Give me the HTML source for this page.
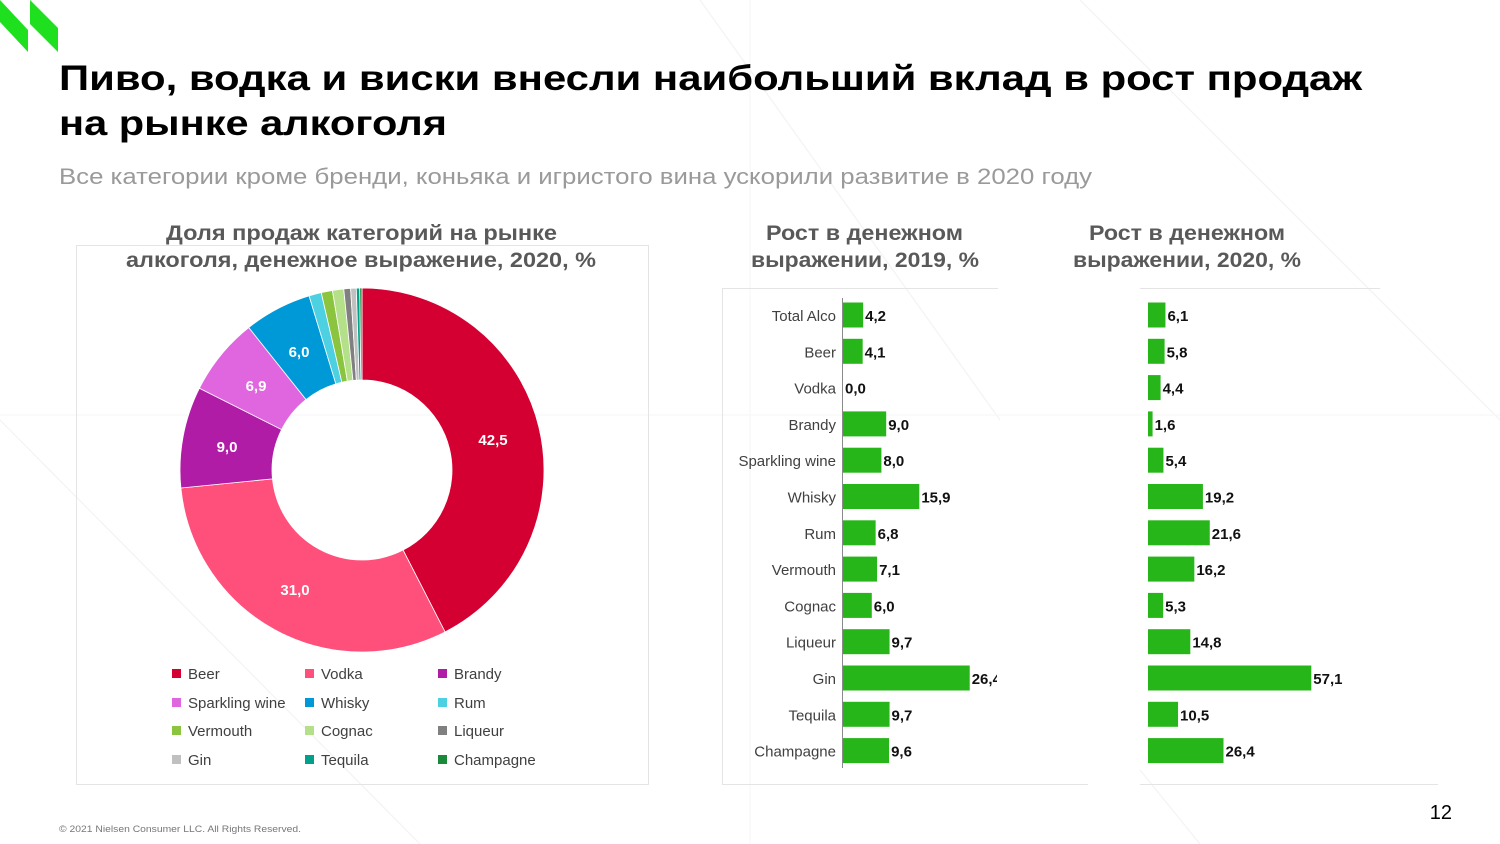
<!DOCTYPE html>
<html><head><meta charset="utf-8"><style>
body{margin:0;width:1500px;height:844px;background:#fff;overflow:hidden}
svg{display:block}
text{font-family:"Liberation Sans","DejaVu Sans",sans-serif}
</style></head><body>
<svg width="1500" height="844" viewBox="0 0 1500 844">
<g stroke="#f3f3f3" stroke-width="1.2" fill="none">
<line x1="700" y1="0" x2="1000" y2="420"/>
<line x1="1080" y1="0" x2="1500" y2="420"/>
<line x1="0" y1="420" x2="420" y2="844"/>
<line x1="1140" y1="770" x2="1200" y2="844"/>
<line x1="0" y1="415" x2="1500" y2="415" stroke="#f7f7f7"/>
<line x1="750" y1="0" x2="750" y2="844" stroke="#f7f7f7"/>
</g>
<polygon points="0,0 28,30 28,52 0,22" fill="#1fe01f"/>
<polygon points="30,0 58,28 58,52 30,24" fill="#1fe01f"/>
<text x="59" y="90" font-size="35" font-weight="bold" fill="#000" textLength="1303" lengthAdjust="spacingAndGlyphs">Пиво, водка и виски внесли наибольший вклад в рост продаж</text>
<text x="59" y="135" font-size="35" font-weight="bold" fill="#000" textLength="388" lengthAdjust="spacingAndGlyphs">на рынке алкоголя</text>
<text x="59" y="184" font-size="22" fill="#9a9a9a" textLength="1033" lengthAdjust="spacingAndGlyphs">Все категории кроме бренди, коньяка и игристого вина ускорили развитие в 2020 году</text>
<g fill="none" stroke="#e4e4e4" stroke-width="1">
<rect x="76.5" y="245.5" width="572" height="539"/>
<line x1="722" y1="288.5" x2="998" y2="288.5"/>
<line x1="722.5" y1="288" x2="722.5" y2="784"/>
<line x1="722" y1="784.5" x2="1088" y2="784.5"/>
<line x1="1140" y1="288.5" x2="1380" y2="288.5"/>
<line x1="1140" y1="784.5" x2="1438" y2="784.5"/>
</g>
<g font-size="21" font-weight="bold" fill="#595959" lengthAdjust="spacingAndGlyphs">
<text x="166" y="240" textLength="391" lengthAdjust="spacingAndGlyphs">Доля продаж категорий на рынке</text>
<text x="126" y="267" textLength="470" lengthAdjust="spacingAndGlyphs">алкоголя, денежное выражение, 2020, %</text>
<text x="766" y="240" textLength="197" lengthAdjust="spacingAndGlyphs">Рост в денежном</text>
<text x="751" y="267" textLength="228" lengthAdjust="spacingAndGlyphs">выражении, 2019, %</text>
<text x="1089" y="240" textLength="196" lengthAdjust="spacingAndGlyphs">Рост в денежном</text>
<text x="1073" y="267" textLength="228" lengthAdjust="spacingAndGlyphs">выражении, 2020, %</text>
</g>
<g id="donut" stroke="#fff" stroke-width="0.8"></g>
<g font-size="15" font-weight="bold" fill="#fff" text-anchor="middle">
<text x="493" y="445">42,5</text>
<text x="295" y="595">31,0</text>
<text x="227" y="452">9,0</text>
<text x="256" y="391">6,9</text>
<text x="299" y="357">6,0</text>
</g>
<g font-size="15" fill="#404040" id="legend"></g>
<g id="bars"></g>
<text x="1452" y="819" font-size="20" fill="#000" text-anchor="end">12</text>
<text x="59" y="832" font-size="9" fill="#777" textLength="242" lengthAdjust="spacingAndGlyphs">© 2021 Nielsen Consumer LLC. All Rights Reserved.</text>
</svg>
<script>
const ns="http://www.w3.org/2000/svg";
function el(t,a,p,txt){const e=document.createElementNS(ns,t);for(const k in a)e.setAttribute(k,a[k]);if(txt!=null)e.textContent=txt;p.appendChild(e);return e;}
const vals=[42.5,31.0,9.0,6.9,6.0,1.1,1.0,1.0,0.6,0.5,0.3,0.2];
const cols=["#d50032","#ff4f7b","#b01ca6","#e066e0","#0099d8","#4dd0e1","#8bc53f","#b5e08a","#808080","#c0c0c0","#00a08a","#1a8a3a"];
const names=["Beer","Vodka","Brandy","Sparkling wine","Whisky","Rum","Vermouth","Cognac","Liqueur","Gin","Tequila","Champagne"];
const tot=vals.reduce((a,b)=>a+b,0);
const cx=362,cy=470,R=182,r=90;let a0=0;
const d=document.getElementById("donut");
vals.forEach((v,i)=>{const a1=a0+v/tot*2*Math.PI;
const p=(rr,a)=>[cx+rr*Math.sin(a),cy-rr*Math.cos(a)];
const [x1,y1]=p(R,a0),[x2,y2]=p(R,a1),[x3,y3]=p(r,a1),[x4,y4]=p(r,a0);const lg=(a1-a0)>Math.PI?1:0;
el("path",{d:`M${x1},${y1}A${R},${R} 0 ${lg} 1 ${x2},${y2}L${x3},${y3}A${r},${r} 0 ${lg} 0 ${x4},${y4}Z`,fill:cols[i]},d);a0=a1;});
const lgd=document.getElementById("legend");
const lx=[172,305,438],ly=[674,703,731,760];
names.forEach((n,i)=>{const x=lx[i%3],y=ly[Math.floor(i/3)];
el("rect",{x:x,y:y-5,width:9,height:9,fill:cols[i]},lgd);el("text",{x:x+16,y:y+5},lgd,n);});
const cats=["Total Alco","Beer","Vodka","Brandy","Sparkling wine","Whisky","Rum","Vermouth","Cognac","Liqueur","Gin","Tequila","Champagne"];
const v1=["4,2","4,1","0,0","9,0","8,0","15,9","6,8","7,1","6,0","9,7","26,4","9,7","9,6"];
const v2=["6,1","5,8","4,4","1,6","5,4","19,2","21,6","16,2","5,3","14,8","57,1","10,5","26,4"];
const b=document.getElementById("bars");
el("line",{x1:842.5,y1:298,x2:842.5,y2:768,stroke:"#8a8a8a","stroke-width":1},b);
cats.forEach((c,i)=>{const y=315+i*36.3;
el("text",{x:836,y:y+6,"font-size":15,fill:"#404040","text-anchor":"end"},b,c);
const w1=parseFloat(v1[i].replace(",","."))*4.8;
if(w1>0)el("rect",{x:843,y:y-12.5,width:w1,height:25,fill:"#27b61a"},b);
el("text",{x:843+w1+2,y:y+6,"font-size":15,"font-weight":"bold",fill:"#111"},b,v1[i]);
const w2=parseFloat(v2[i].replace(",","."))*2.86;
el("rect",{x:1148,y:y-12.5,width:w2,height:25,fill:"#27b61a"},b);
el("text",{x:1148+w2+2,y:y+6,"font-size":15,"font-weight":"bold",fill:"#111"},b,v2[i]);});
el("rect",{x:997,y:660,width:30,height:40,fill:"#fff"},b);
</script>
</body></html>
